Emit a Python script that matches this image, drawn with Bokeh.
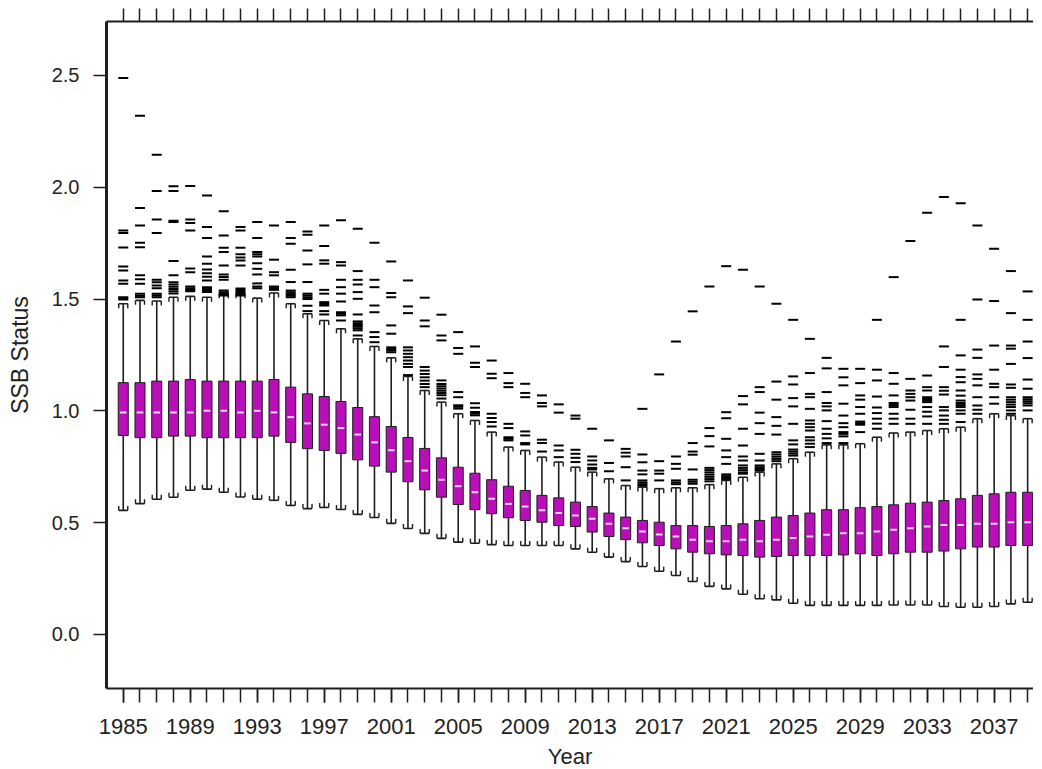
from bokeh.plotting import figure
from bokeh.models import FixedTicker, Range1d, LinearAxis, NumeralTickFormatter
from bokeh.embed import file_html
from bokeh.resources import INLINE
import numpy as np

years = list(range(1985, 2040))
label_years = list(range(1985, 2040, 4))
y_ticks = [0.0, 0.5, 1.0, 1.5, 2.0, 2.5]

q1 = [0.890, 0.880, 0.880, 0.887, 0.887, 0.880, 0.880, 0.880, 0.880, 0.887,
      0.859, 0.831, 0.823, 0.810, 0.781, 0.753, 0.726, 0.683, 0.647, 0.614,
      0.581, 0.558, 0.540, 0.522, 0.510, 0.502, 0.487, 0.483, 0.458, 0.438,
      0.424, 0.410, 0.398, 0.383, 0.368, 0.361, 0.356, 0.353, 0.346, 0.349,
      0.353, 0.353, 0.353, 0.356, 0.361, 0.353, 0.361, 0.368, 0.368, 0.373,
      0.383, 0.391, 0.391, 0.398, 0.398]
median = [0.993, 0.993, 0.993, 0.993, 0.993, 1.000, 1.000, 0.993, 1.000, 0.993,
          0.972, 0.944, 0.938, 0.923, 0.894, 0.859, 0.824, 0.775, 0.733, 0.692,
          0.663, 0.636, 0.607, 0.584, 0.572, 0.555, 0.543, 0.532, 0.517, 0.495,
          0.475, 0.461, 0.447, 0.438, 0.424, 0.417, 0.417, 0.424, 0.417, 0.424,
          0.432, 0.438, 0.446, 0.453, 0.453, 0.461, 0.468, 0.475, 0.483, 0.490,
          0.490, 0.495, 0.495, 0.502, 0.502]
q3 = [1.126, 1.126, 1.133, 1.133, 1.140, 1.133, 1.133, 1.133, 1.133, 1.140,
      1.106, 1.076, 1.064, 1.042, 1.015, 0.974, 0.930, 0.881, 0.832, 0.790,
      0.748, 0.721, 0.692, 0.663, 0.644, 0.622, 0.611, 0.592, 0.572, 0.543,
      0.525, 0.510, 0.502, 0.487, 0.487, 0.483, 0.487, 0.495, 0.510, 0.525,
      0.532, 0.543, 0.558, 0.558, 0.567, 0.572, 0.580, 0.587, 0.592, 0.599,
      0.607, 0.622, 0.629, 0.636, 0.636]
whisker_low = [0.555, 0.585, 0.605, 0.614, 0.645, 0.650, 0.636, 0.615, 0.605, 0.600,
               0.577, 0.563, 0.568, 0.559, 0.537, 0.523, 0.497, 0.474, 0.452, 0.430,
               0.413, 0.408, 0.402, 0.398, 0.398, 0.398, 0.398, 0.383, 0.368, 0.346,
               0.326, 0.304, 0.283, 0.264, 0.237, 0.215, 0.204, 0.180, 0.160, 0.155,
               0.140, 0.130, 0.130, 0.130, 0.130, 0.130, 0.132, 0.132, 0.132, 0.125,
               0.122, 0.122, 0.125, 0.137, 0.144]
whisker_high = [1.479, 1.494, 1.491, 1.508, 1.512, 1.508, 1.524, 1.524, 1.504, 1.527,
                1.479, 1.434, 1.404, 1.367, 1.322, 1.288, 1.237, 1.154, 1.091, 1.039,
                0.987, 0.957, 0.905, 0.838, 0.823, 0.793, 0.771, 0.748, 0.726, 0.696,
                0.666, 0.659, 0.652, 0.656, 0.656, 0.670, 0.689, 0.703, 0.726, 0.763,
                0.786, 0.815, 0.848, 0.848, 0.853, 0.882, 0.901, 0.905, 0.912, 0.920,
                0.927, 0.965, 0.987, 0.979, 0.965]

outliers = [
    [2.488, 1.806, 1.795, 1.730, 1.646, 1.628, 1.583, 1.568, 1.508, 1.503, 1.498],
    [2.320, 1.907, 1.829, 1.752, 1.732, 1.606, 1.588, 1.568, 1.524, 1.515, 1.508],
    [2.145, 1.983, 1.856, 1.795, 1.586, 1.575, 1.560, 1.548, 1.524, 1.516, 1.508],
    [2.004, 1.983, 1.850, 1.844, 1.670, 1.606, 1.575, 1.565, 1.555, 1.545, 1.535, 1.525],
    [2.005, 1.856, 1.840, 1.807, 1.636, 1.620, 1.556, 1.548, 1.540, 1.535],
    [1.963, 1.822, 1.773, 1.690, 1.658, 1.632, 1.615, 1.600, 1.583, 1.553, 1.545, 1.538, 1.531],
    [1.892, 1.784, 1.729, 1.710, 1.650, 1.610, 1.598, 1.586, 1.538, 1.530, 1.522, 1.516],
    [1.822, 1.807, 1.729, 1.700, 1.686, 1.672, 1.650, 1.547, 1.540, 1.532, 1.524, 1.516],
    [1.844, 1.773, 1.710, 1.700, 1.690, 1.660, 1.635, 1.610, 1.570, 1.556, 1.548],
    [1.829, 1.676, 1.620, 1.606, 1.556, 1.549, 1.541],
    [1.844, 1.773, 1.747, 1.631, 1.576, 1.538, 1.530, 1.522, 1.515, 1.508],
    [1.802, 1.788, 1.717, 1.655, 1.576, 1.524, 1.516, 1.508, 1.500, 1.470, 1.446],
    [1.829, 1.737, 1.673, 1.658, 1.541, 1.524, 1.486, 1.478, 1.471, 1.446, 1.431],
    [1.852, 1.665, 1.650, 1.586, 1.553, 1.524, 1.489, 1.441, 1.434, 1.427, 1.404],
    [1.814, 1.625, 1.586, 1.565, 1.531, 1.501, 1.431, 1.400, 1.392, 1.384, 1.376, 1.368, 1.360, 1.337],
    [1.752, 1.586, 1.553, 1.471, 1.441, 1.352, 1.330, 1.307],
    [1.668, 1.527, 1.508, 1.382, 1.345, 1.284, 1.277, 1.270, 1.262],
    [1.583, 1.467, 1.437, 1.284, 1.270, 1.255, 1.240, 1.225, 1.210, 1.196, 1.160],
    [1.506, 1.404, 1.378, 1.196, 1.180, 1.165, 1.150, 1.135, 1.120, 1.106],
    [1.430, 1.337, 1.315, 1.136, 1.120, 1.110, 1.100, 1.090, 1.080, 1.070, 1.055],
    [1.352, 1.281, 1.255, 1.084, 1.061, 1.025, 1.018, 1.010],
    [1.288, 1.215, 1.196, 1.034, 1.014, 0.995, 0.988, 0.980],
    [1.225, 1.166, 1.146, 0.987, 0.968, 0.950, 0.930],
    [1.169, 1.124, 1.106, 0.942, 0.923, 0.882, 0.875, 0.868],
    [1.121, 1.080, 1.061, 0.908, 0.890, 0.856, 0.850],
    [1.069, 1.035, 1.020, 0.871, 0.856, 0.818],
    [1.029, 0.992, 0.845, 0.823, 0.793],
    [0.979, 0.965, 0.826, 0.808, 0.790, 0.771],
    [0.920, 0.796, 0.778, 0.760, 0.745, 0.738],
    [0.868, 0.767, 0.730],
    [0.830, 0.813, 0.796, 0.748, 0.689],
    [1.009, 0.805, 0.770, 0.733, 0.716, 0.689, 0.680, 0.672, 0.665],
    [1.163, 0.775, 0.733, 0.719, 0.689],
    [1.310, 0.796, 0.763, 0.741, 0.689, 0.680, 0.672],
    [1.445, 0.856, 0.818, 0.804, 0.738, 0.692, 0.683, 0.674],
    [1.556, 0.923, 0.887, 0.841, 0.745, 0.735, 0.725, 0.715, 0.705, 0.695, 0.685],
    [1.647, 0.994, 0.967, 0.875, 0.823, 0.793, 0.763, 0.716, 0.708, 0.700, 0.694],
    [1.631, 1.066, 1.029, 0.920, 0.845, 0.796, 0.778, 0.756, 0.745, 0.735, 0.725, 0.719],
    [1.556, 1.106, 1.084, 0.992, 0.945, 0.897, 0.808, 0.778, 0.756, 0.748, 0.740, 0.733],
    [1.479, 1.131, 1.050, 0.972, 0.933, 0.894, 0.815, 0.805, 0.795, 0.785, 0.775],
    [1.407, 1.154, 1.118, 1.057, 1.020, 0.942, 0.868, 0.850, 0.827, 0.818, 0.809, 0.800],
    [1.322, 1.169, 1.076, 1.061, 1.009, 0.957, 0.942, 0.927, 0.912, 0.882, 0.868, 0.853, 0.838],
    [1.237, 1.190, 1.084, 1.035, 1.020, 1.002, 0.954, 0.920, 0.897, 0.877, 0.856],
    [1.188, 1.150, 1.114, 1.032, 0.979, 0.945, 0.927, 0.905, 0.897, 0.886, 0.856],
    [1.188, 1.124, 1.069, 1.050, 1.017, 0.987, 0.952, 0.945, 0.938, 0.905],
    [1.407, 1.184, 1.136, 1.064, 1.015, 0.990, 0.965, 0.943, 0.920],
    [1.598, 1.169, 1.121, 1.069, 1.035, 1.026, 1.017, 0.987, 0.965, 0.942],
    [1.759, 1.143, 1.091, 1.076, 1.061, 1.046, 1.005, 0.965, 0.942],
    [1.886, 1.158, 1.106, 1.091, 1.061, 1.053, 1.046, 1.039, 1.017, 0.996, 0.975, 0.942],
    [1.956, 1.288, 1.196, 1.106, 1.090, 1.073, 1.017, 1.002, 0.979, 0.960, 0.942],
    [1.928, 1.407, 1.248, 1.184, 1.151, 1.128, 1.091, 1.068, 1.046, 1.035, 1.026, 1.017, 1.002, 0.987, 0.950],
    [1.829, 1.498, 1.274, 1.237, 1.163, 1.143, 1.114, 1.061, 1.024, 1.005, 0.987],
    [1.725, 1.491, 1.292, 1.184, 1.121, 1.106, 1.061, 1.032],
    [1.625, 1.437, 1.292, 1.278, 1.210, 1.118, 1.103, 1.061, 1.050, 1.039, 1.028, 1.017, 1.002, 0.987],
    [1.534, 1.407, 1.310, 1.236, 1.140, 1.099, 1.061, 1.052, 1.043, 1.034, 1.024, 1.002],
]

BOX_FILL = "#B80FB8"
INK = "#1e1e1e"
FONT = "Liberation Sans"

yrs = np.array(years, dtype=float)
lo = np.array(whisker_low)
hi = np.array(whisker_high)
cap_half = 0.27
cap_drop = 0.02

ox = [y for y, vals in zip(years, outliers) for _ in vals]
oy = [v for vals in outliers for v in vals]

p = figure(frame_width=927, frame_height=667,
           x_range=Range1d(1984.0, 2039.35), y_range=Range1d(-0.2415, 2.741),
           output_backend="svg", toolbar_location=None,
           min_border_left=106, min_border_right=0, min_border_top=21, min_border_bottom=0)

# whiskers
p.segment(x0=yrs, y0=q3, x1=yrs, y1=hi, line_color=INK, line_width=1.6)
p.segment(x0=yrs, y0=q1, x1=yrs, y1=lo, line_color=INK, line_width=1.6)
# caps (upper: open downwards, lower: open upwards)
p.segment(x0=yrs - cap_half, y0=hi, x1=yrs + cap_half, y1=hi, line_color=INK, line_width=1.6)
p.segment(x0=yrs - cap_half, y0=hi, x1=yrs - cap_half, y1=hi - cap_drop, line_color=INK, line_width=1.4)
p.segment(x0=yrs + cap_half, y0=hi, x1=yrs + cap_half, y1=hi - cap_drop, line_color=INK, line_width=1.4)
p.segment(x0=yrs - cap_half, y0=lo, x1=yrs + cap_half, y1=lo, line_color=INK, line_width=1.6)
p.segment(x0=yrs - cap_half, y0=lo, x1=yrs - cap_half, y1=lo + cap_drop, line_color=INK, line_width=1.4)
p.segment(x0=yrs + cap_half, y0=lo, x1=yrs + cap_half, y1=lo + cap_drop, line_color=INK, line_width=1.4)
# boxes
p.vbar(x=yrs, width=0.6, bottom=q1, top=q3, fill_color=BOX_FILL, line_color=INK, line_width=1)
# medians
p.segment(x0=yrs - 0.2, y0=median, x1=yrs + 0.2, y1=median, line_color="#F6D2F6", line_width=2)
# outliers
p.scatter(x=ox, y=oy, marker="dash", size=10, line_color="black", line_width=2)

p.xgrid.grid_line_color = None
p.ygrid.grid_line_color = None
p.outline_line_color = None

xa = p.xaxis[0]
xa.ticker = FixedTicker(ticks=label_years, minor_ticks=years)
xa.axis_line_width = 2
xa.axis_line_color = INK
xa.major_tick_out = 14
xa.major_tick_in = 0
xa.minor_tick_out = 14
xa.minor_tick_in = 0
xa.major_tick_line_width = 1.5
xa.minor_tick_line_width = 1.5
xa.major_tick_line_color = INK
xa.minor_tick_line_color = INK
xa.major_label_text_font = FONT
xa.major_label_text_font_size = "22px"
xa.major_label_text_color = "#222222"
xa.major_label_standoff = 16
xa.axis_label = "Year"
xa.axis_label_text_font = FONT
xa.axis_label_text_font_size = "22px"
xa.axis_label_text_font_style = "normal"
xa.axis_label_text_color = "#222222"
xa.axis_label_standoff = 7

# top axis: ticks only, no labels
top = LinearAxis(ticker=FixedTicker(ticks=[], minor_ticks=years))
top.axis_line_width = 2
top.axis_line_color = INK
top.minor_tick_out = 13
top.minor_tick_in = 0
top.minor_tick_line_width = 1.5
top.minor_tick_line_color = INK
top.major_label_standoff = 0
p.add_layout(top, "above")

ya = p.yaxis[0]
ya.ticker = FixedTicker(ticks=y_ticks, minor_ticks=[])
ya.formatter = NumeralTickFormatter(format="0.0")
ya.axis_line_width = 3
ya.axis_line_color = INK
ya.major_tick_out = 13
ya.major_tick_in = 0
ya.major_tick_line_width = 1.5
ya.major_tick_line_color = INK
ya.major_label_text_font = FONT
ya.major_label_text_font_size = "20px"
ya.major_label_text_color = "#222222"
ya.major_label_standoff = 14
ya.axis_label = "SSB Status"
ya.axis_label_text_font = FONT
ya.axis_label_text_font_size = "23px"
ya.axis_label_text_font_style = "normal"
ya.axis_label_text_color = "#222222"
ya.axis_label_standoff = 16

open("out.html", "w").write(file_html(p, INLINE))
